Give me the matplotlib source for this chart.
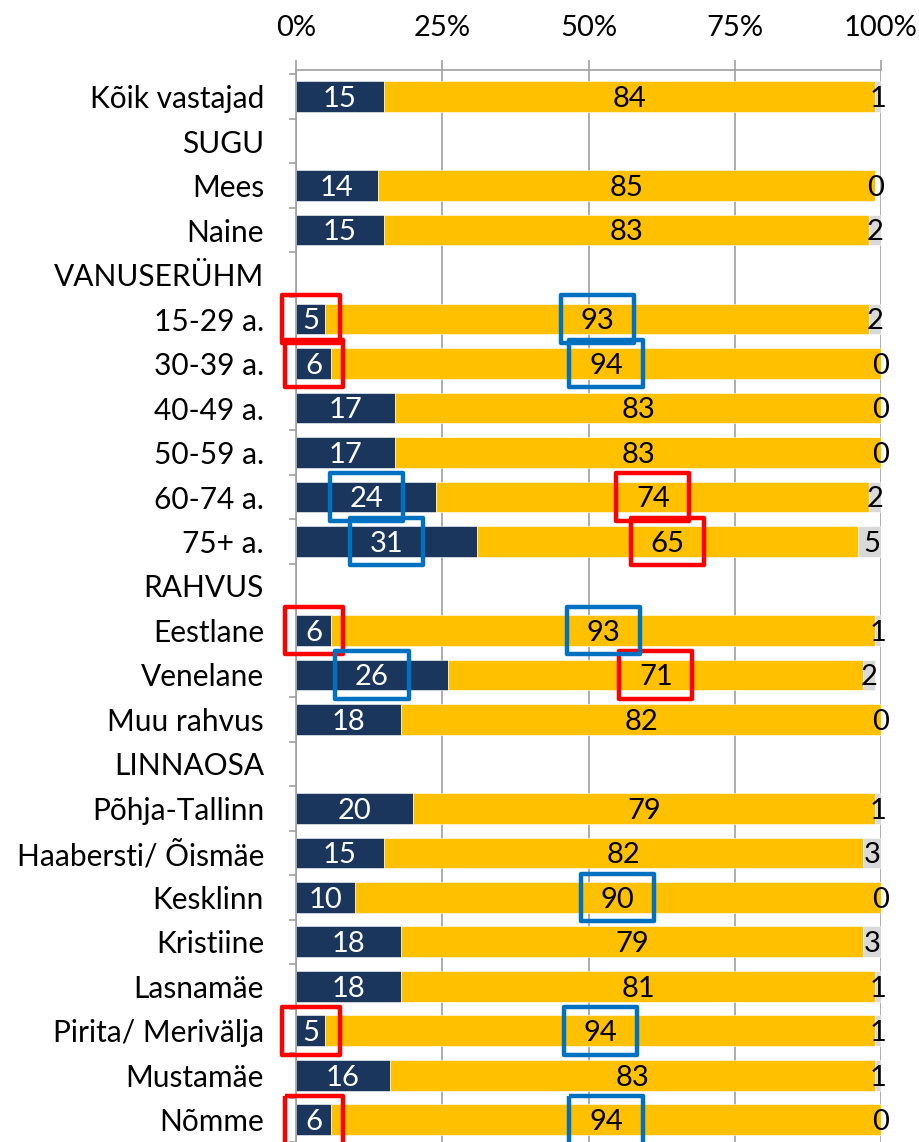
import matplotlib.pyplot as plt
from matplotlib.patches import Rectangle
import numpy as np

plt.rcParams['font.family'] = ['Lato', 'DejaVu Sans']

# rows top to bottom; section headers have no bars
categories = ["Kõik vastajad", "SUGU", "Mees", "Naine", "VANUSERÜHM",
              "15-29 a.", "30-39 a.", "40-49 a.", "50-59 a.", "60-74 a.", "75+ a.",
              "RAHVUS", "Eestlane", "Venelane", "Muu rahvus", "LINNAOSA",
              "Põhja-Tallinn", "Haabersti/ Õismäe", "Kesklinn", "Kristiine",
              "Lasnamäe", "Pirita/ Merivälja", "Mustamäe", "Nõmme"]
navy_vals = [15, None, 14, 15, None, 5, 6, 17, 17, 24, 31, None, 6, 26, 18, None,
             20, 15, 10, 18, 18, 5, 16, 6]
yellow_vals = [84, None, 85, 83, None, 93, 94, 83, 83, 74, 65, None, 93, 71, 82, None,
               79, 82, 90, 79, 81, 94, 83, 94]
gray_vals = [1, None, 0, 2, None, 2, 0, 0, 0, 2, 5, None, 1, 2, 0, None,
             1, 3, 0, 3, 1, 1, 1, 0]

# highlighted labels: (row, segment 0=navy 1=yellow)
red_boxes = [(5, 0), (6, 0), (9, 1), (10, 1), (12, 0), (13, 1), (21, 0), (23, 0)]
blue_boxes = [(5, 1), (6, 1), (9, 0), (10, 0), (12, 1), (13, 0), (18, 1), (21, 1), (23, 1)]

NAVY = "#1b365d"
YELLOW = "#ffc000"
GRAY = "#d9d9d9"
GRID = "#a0a0a0"
FS_CAT = 21.5
FS_VAL = 21
FS_TICK = 21

fig = plt.figure(figsize=(9.19, 11.42), dpi=100)
ax = fig.add_axes([296 / 919, 0, 585 / 919, 1 - 70 / 1142])

n = len(categories)
y = np.arange(n)
bar_h = 0.69

label_pos = {}
for i in range(n):
    if navy_vals[i] is None:
        continue
    segs = [navy_vals[i], yellow_vals[i], gray_vals[i]]
    cols = [NAVY, YELLOW, GRAY]
    tcols = ["white", "black", "black"]
    left = 0
    for k in range(3):
        ax.barh(y[i], segs[k], left=left, height=bar_h, color=cols[k],
                edgecolor="white", linewidth=0.4, zorder=2)
        xc = left + segs[k] / 2
        label_pos[(i, k)] = (xc, len(str(segs[k])))
        ax.text(xc, y[i] + 0.05, str(segs[k]), ha="center", va="center",
                color=tcols[k], fontsize=FS_VAL, zorder=4)
        left += segs[k]


def add_box(row, seg, color):
    xc, ndig = label_pos[(row, seg)]
    w = 9.9 if ndig == 1 else 12.5
    h = 1.07
    ax.add_patch(Rectangle((xc - w / 2, y[row] - h / 2), w, h, fill=False,
                           edgecolor=color, linewidth=3.2, zorder=5,
                           clip_on=False, joinstyle="round"))


for r, s in red_boxes:
    add_box(r, s, "#ff0000")
for r, s in blue_boxes:
    add_box(r, s, "#0070c0")

ax.set_xlim(0, 100)
ax.set_ylim(23.38, -0.6)
ax.xaxis.tick_top()
ax.set_xticks([0, 25, 50, 75, 100])
ax.set_xticklabels(["0%", "25%", "50%", "75%", "100%"], fontsize=FS_TICK)
ax.tick_params(axis="x", direction="out", length=7, width=1.2, color=GRID, pad=14)
ax.xaxis.grid(True, color=GRID, linewidth=1.2, zorder=0)
ax.set_axisbelow(True)

ax.set_yticks(y)
ax.set_yticklabels(categories, fontsize=FS_CAT)
ax.set_yticks(np.arange(-0.5, n, 1), minor=True)
ax.tick_params(axis="y", which="major", length=0, pad=23)
ax.tick_params(axis="y", which="minor", length=5, width=1.2, color=GRID)

for side in ["right", "bottom"]:
    ax.spines[side].set_visible(False)
for side in ["left", "top"]:
    ax.spines[side].set_color(GRID)
    ax.spines[side].set_linewidth(1.2)

fig.savefig("out.png", dpi=100)
